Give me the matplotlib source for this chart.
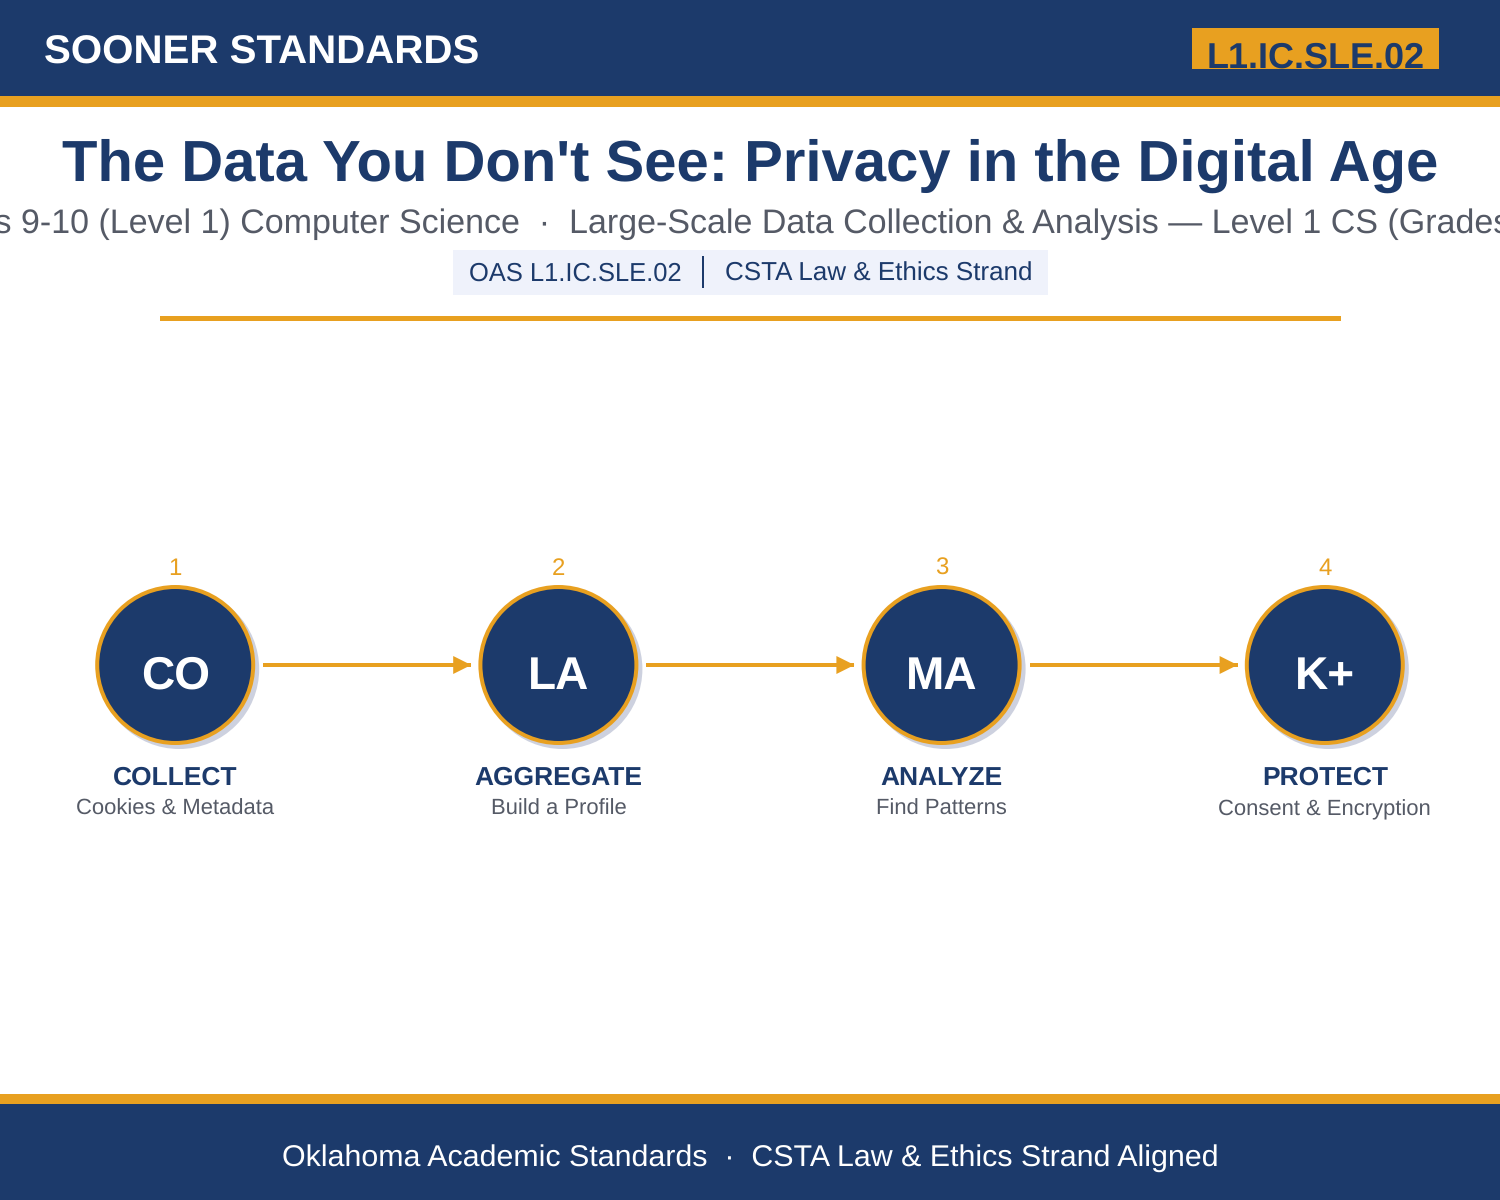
import matplotlib
matplotlib.use('Agg')
import matplotlib.pyplot as plt
from matplotlib.patches import Rectangle, Circle, Polygon

NAVY = '#1c3a6b'
GOLD = '#e8a020'
GREY = '#555a66'
SHADOW = '#cdd1df'
PILL = '#eff2fb'

# contenu
brand = 'SOONER STANDARDS'
badge = 'L1.IC.SLE.02'
title = "The Data You Don't See: Privacy in the Digital Age"
subtitle = 'Grades 9-10 (Level 1) Computer Science  ·  Large-Scale Data Collection & Analysis — Level 1 CS (Grades 9-10)'
pill_left = 'OAS L1.IC.SLE.02'
pill_right = 'CSTA Law & Ethics Strand'
footer = 'Oklahoma Academic Standards  ·  CSTA Law & Ethics Strand Aligned'

step_nums = ['1', '2', '3', '4']
step_abbr = ['CO', 'LA', 'MA', 'K+']
step_names = ['COLLECT', 'AGGREGATE', 'ANALYZE', 'PROTECT']
step_subs = ['Cookies & Metadata', 'Build a Profile', 'Find Patterns', 'Consent & Encryption']

plt.rcParams['font.family'] = ['Liberation Sans', 'DejaVu Sans']
plt.rcParams['text.hinting'] = 'no_hinting'


def px(size):
    # taille en pixels vers points (dpi 100)
    return size * 0.72


fig = plt.figure(figsize=(15, 12), dpi=100)
ax = fig.add_axes([0, 0, 1, 1])
ax.set_xlim(0, 1500)
ax.set_ylim(1200, 0)
ax.axis('off')

# bandeau du haut
ax.add_patch(Rectangle((0, 0), 1500, 96, color=NAVY, lw=0))
ax.add_patch(Rectangle((0, 96), 1500, 11, color=GOLD, lw=0))
ax.text(44, 64, brand, color='white', fontsize=px(40.3), fontweight='bold', ha='left', va='baseline')
badge_box = Rectangle((1192, 28), 247, 41, color=GOLD, lw=0)
ax.add_patch(badge_box)
badge_txt = ax.text(1315.5, 68, badge, color=NAVY, fontsize=px(36), fontweight='bold', ha='center', va='baseline')
badge_txt.set_clip_path(badge_box)

# titre
ax.text(750, 181, title, color=NAVY, fontsize=px(58), fontweight='bold', ha='center', va='baseline')
ax.text(750, 233, subtitle, color=GREY, fontsize=px(34), ha='center', va='baseline')

# pastille
ax.add_patch(Rectangle((453, 250), 595, 45, color=PILL, lw=0))
ax.text(469, 281, pill_left, color=NAVY, fontsize=px(25.5), ha='left', va='baseline')
ax.plot([702.5, 702.5], [256, 288], color=NAVY, lw=px(2), solid_capstyle='butt')
ax.text(725, 281, pill_right, color=NAVY, fontsize=px(26), ha='left', va='baseline')
ax.add_patch(Rectangle((160, 316), 1181, 5, color=GOLD, lw=0))

# les etapes
x0 = 175.2
dx = 383.2
yc = 665
for i in range(len(step_abbr)):
    x = x0 + i * dx
    ax.add_patch(Circle((x + 4, yc + 4), 80, color=SHADOW, lw=0))
    ax.add_patch(Circle((x, yc), 78, facecolor=NAVY, edgecolor=GOLD, lw=px(4)))
    ax.text(x, 575, step_nums[i], color=GOLD, fontsize=px(24), ha='center', va='baseline')
    ax.text(x, 689, step_abbr[i], color='white', fontsize=px(46), fontweight='bold', ha='center', va='baseline')
    ax.text(x, 785, step_names[i], color=NAVY, fontsize=px(26.4), fontweight='bold', ha='center', va='baseline')
    ax.text(x, 815, step_subs[i], color=GREY, fontsize=px(22), ha='center', va='baseline')
    if i < len(step_abbr) - 1:
        ax.plot([x + 88, x + 296], [yc, yc], color=GOLD, lw=px(4), solid_capstyle='butt')
        ax.add_patch(Polygon([[x + 278, yc - 9], [x + 296, yc], [x + 278, yc + 9]], color=GOLD, lw=0))

# pied de page
ax.add_patch(Rectangle((0, 1094), 1500, 10, color=GOLD, lw=0))
ax.add_patch(Rectangle((0, 1104), 1500, 96, color=NAVY, lw=0))
ax.text(750, 1166, footer, color='white', fontsize=px(30.4), ha='center', va='baseline')

fig.savefig('out.png', dpi=100)
